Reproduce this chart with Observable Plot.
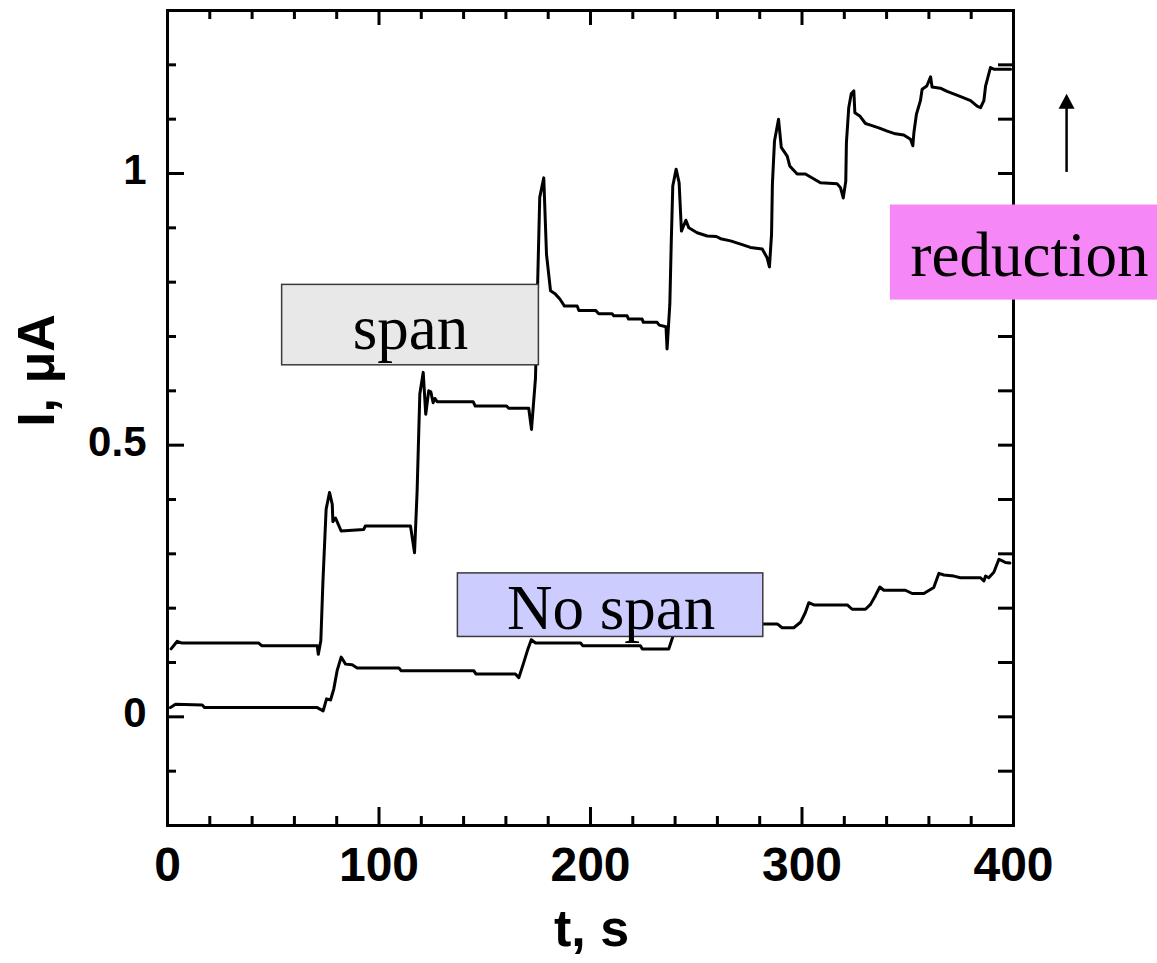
<!DOCTYPE html>
<html>
<head>
<meta charset="utf-8">
<script src="https://cdn.jsdelivr.net/npm/d3@7"></script>
<script src="https://cdn.jsdelivr.net/npm/@observablehq/plot@0.6"></script>
<style>
  html, body { margin: 0; padding: 0; background: #fff; }
</style>
</head>
<body>
<div id="chart"></div>
<script>
// ---- Data ----
// Upper curve (with span): time (s) and current (µA)
const spanT = [1.7, 4.6, 6.5, 43.0, 44.5, 70.8, 71.3, 72.5, 73.5, 75.0, 76.6, 77.9, 78.2, 79.4, 82.1, 92.8, 93.5, 114.9, 116.8, 118.0,
  119.3, 120.9, 122.1, 123.5, 124.5, 125.6, 126.4, 127.5, 144.5, 145.5, 160.3, 161.3, 170.8, 172.1, 174.0, 175.0, 176.0, 177.9, 179.2, 181.1,
  183.4, 185.5, 187.7, 193.7, 194.5, 202.4, 203.9, 210.2, 211.0, 217.3, 218.0, 224.4, 225.0, 231.5, 232.5, 235.7, 236.2, 237.5, 238.2, 238.9,
  240.5, 241.9, 243.0, 245.1, 246.5, 250.4, 255.2, 259.5, 261.5, 266.2, 271.0, 275.6, 281.2, 283.5, 284.6, 285.6, 286.0, 287.0, 288.9, 290.2,
  293.0, 294.2, 297.7, 301.6, 308.7, 316.6, 318.2, 319.5, 320.7, 321.0, 322.1, 323.3, 324.5, 325.0, 327.3, 330.0, 332.4, 336.3, 340.3, 344.2,
  348.1, 351.3, 352.4, 352.9, 354.1, 356.0, 356.8, 359.0, 360.8, 361.5, 365.4, 368.6, 372.6, 376.5, 379.7, 382.8, 384.4, 386.0, 386.8, 389.1,
  390.7, 398.6];
const spanI = [0.125, 0.139, 0.136, 0.136, 0.131, 0.131, 0.115, 0.140, 0.250, 0.382, 0.413, 0.391, 0.359, 0.366, 0.342, 0.345, 0.351, 0.351, 0.302, 0.413,
  0.594, 0.634, 0.557, 0.600, 0.598, 0.578, 0.586, 0.580, 0.580, 0.572, 0.572, 0.568, 0.568, 0.529, 0.624, 0.796, 0.956, 0.992, 0.851, 0.784,
  0.778, 0.769, 0.756, 0.756, 0.748, 0.748, 0.742, 0.742, 0.738, 0.738, 0.732, 0.732, 0.726, 0.726, 0.721, 0.718, 0.677, 0.759, 0.876, 0.977,
  1.008, 0.983, 0.894, 0.914, 0.900, 0.891, 0.885, 0.884, 0.880, 0.876, 0.870, 0.864, 0.861, 0.845, 0.828, 0.888, 0.980, 1.060, 1.100, 1.048,
  1.032, 1.014, 0.999, 0.999, 0.983, 0.981, 0.974, 0.955, 0.986, 1.057, 1.121, 1.147, 1.152, 1.112, 1.106, 1.092, 1.089, 1.084, 1.078, 1.073,
  1.071, 1.063, 1.051, 1.075, 1.109, 1.134, 1.155, 1.161, 1.178, 1.159, 1.157, 1.151, 1.145, 1.139, 1.134, 1.124, 1.121, 1.134, 1.161, 1.195,
  1.192, 1.192];

// Lower curve (no span)
const noSpanT = [1.4, 3.8, 16.4, 17.5, 70.8, 73.6, 75.2, 77.1, 78.6, 80.2, 82.1, 84.2, 87.3, 89.7, 109.4, 110.5, 144.8, 145.8, 164.5, 166.1,
  168.2, 170.1, 172.0, 174.0, 195.3, 196.3, 223.6, 224.5, 237.0, 238.8, 240.5, 242.0, 260.0, 281.6, 288.3, 290.6, 296.1, 299.3, 301.6, 303.2,
  305.6, 321.4, 323.7, 330.0, 332.4, 334.7, 336.8, 338.7, 348.9, 352.1, 357.6, 362.3, 364.7, 367.1, 371.8, 374.9, 384.4, 386.0, 386.8, 388.3,
  390.7, 393.1, 394.7, 396.2, 398.3];
const noSpanI = [0.017, 0.023, 0.022, 0.017, 0.017, 0.011, 0.033, 0.031, 0.051, 0.085, 0.110, 0.097, 0.096, 0.090, 0.090, 0.085, 0.085, 0.079, 0.079, 0.072,
  0.097, 0.121, 0.142, 0.136, 0.136, 0.131, 0.131, 0.125, 0.125, 0.146, 0.172, 0.178, 0.175, 0.171, 0.171, 0.164, 0.164, 0.174, 0.192, 0.210,
  0.206, 0.206, 0.198, 0.198, 0.207, 0.223, 0.239, 0.233, 0.233, 0.227, 0.227, 0.238, 0.264, 0.261, 0.259, 0.256, 0.256, 0.250, 0.259, 0.256,
  0.266, 0.290, 0.287, 0.284, 0.283];

// Axis ticks and labels
const xMajorTicks = [0, 100, 200, 300, 400];
const xMinorTicks = [20, 40, 60, 80, 120, 140, 160, 180, 220, 240, 260, 280, 320, 340, 360, 380];
const xTickLabels = ["0", "100", "200", "300", "400"];
const yMajorTicks = [0, 0.5, 1];
const yMinorTicks = [-0.1, 0.1, 0.2, 0.3, 0.4, 0.6, 0.7, 0.8, 0.9, 1.1, 1.2];
const yTickLabels = ["0", "0.5", "1"];
const xTitle = "t, s";
const yTitle = "I, μA";

// Annotation boxes (data units)
const boxLabels = ["span", "No span", "reduction"];
const boxT1 = [54.2, 137.3, 341.8];
const boxT2 = [175.6, 281.7, 470];
const boxI1 = [0.647, 0.147, 0.767];
const boxI2 = [0.795, 0.264, 0.942];
const boxTextT = [114.9, 209.7, 407.6];
const boxTextI = [0.677, 0.161, 0.8116];
const boxFill = ["#e8e8e8", "#ccccff", "#f587f7"];
const boxStroke = ["#3a3a3a", "#3a3a3a", "none"];

// Arrow next to "reduction"
const arrowT = [425.1];
const arrowFromI = [1.002];
const arrowHeadBaseI = [1.121];
const arrowTipI = [1.147];

// ---- Build tables ----
const spanRows = spanT.map((t, i) => ({t, I: spanI[i]}));
const noSpanRows = noSpanT.map((t, i) => ({t, I: noSpanI[i]}));
const boxes = boxLabels.map((label, i) => ({
  label, x1: boxT1[i], x2: boxT2[i], y1: boxI1[i], y2: boxI2[i],
  tx: boxTextT[i], ty: boxTextI[i], fill: boxFill[i], stroke: boxStroke[i]
}));
const arrows = arrowT.map((t, i) => ({t, from: arrowFromI[i], base: arrowHeadBaseI[i], tip: arrowTipI[i]}));

// ---- Layout ----
const W = 1157, H = 963;
const mL = 167, mR = 144, mT = 10, mB = 138;
const fw = W - mL - mR, fh = H - mT - mB;
const sans = "'Liberation Sans', Arial, sans-serif";
const serif = "'Liberation Serif', 'Times New Roman', serif";
const tickW = 3;

const chart = Plot.plot({
  width: W,
  height: H,
  marginLeft: mL, marginRight: mR, marginTop: mT, marginBottom: mB,
  x: {domain: [0, 400], axis: null},
  y: {domain: [-0.2, 1.3], axis: null},
  style: {background: "white", overflow: "visible"},
  marks: [
    // data curves
    Plot.line(spanRows, {x: "t", y: "I", stroke: "black", strokeWidth: 3, strokeLinejoin: "round"}),
    Plot.line(noSpanRows, {x: "t", y: "I", stroke: "black", strokeWidth: 3, strokeLinejoin: "round"}),
    // frame
    Plot.frame({stroke: "black", strokeWidth: 3}),
    // bottom ticks (inward)
    Plot.tickX(xMajorTicks, {x: d => d, insetTop: fh - 18, stroke: "black", strokeWidth: tickW}),
    Plot.tickX(xMinorTicks, {x: d => d, insetTop: fh - 9, stroke: "black", strokeWidth: tickW}),
    // top ticks
    Plot.tickX(xMajorTicks, {x: d => d, insetBottom: fh - 15, stroke: "black", strokeWidth: tickW}),
    Plot.tickX(xMinorTicks, {x: d => d, insetBottom: fh - 9, stroke: "black", strokeWidth: tickW}),
    // left ticks
    Plot.tickY(yMajorTicks, {y: d => d, insetRight: fw - 17, stroke: "black", strokeWidth: tickW}),
    Plot.tickY(yMinorTicks, {y: d => d, insetRight: fw - 9, stroke: "black", strokeWidth: tickW}),
    // right ticks
    Plot.tickY(yMajorTicks.concat(yMinorTicks), {y: d => d, insetLeft: fw - 15, stroke: "black", strokeWidth: tickW}),
    // tick labels
    Plot.text(xMajorTicks, {x: d => d, text: (d, i) => xTickLabels[i], frameAnchor: "bottom", dy: 55, lineAnchor: "bottom",
      fontSize: 48, fontWeight: "bold", fontFamily: sans, fill: "black"}),
    Plot.text(yMajorTicks, {y: d => d, text: (d, i) => yTickLabels[i], frameAnchor: "left", dx: -21, dy: -3, textAnchor: "end",
      fontSize: 42, fontWeight: "bold", fontFamily: sans, fill: "black"}),
    // axis titles
    Plot.text([xTitle], {text: d => d, frameAnchor: "bottom", dy: 120, dx: 1, lineAnchor: "bottom",
      fontSize: 52, fontWeight: "bold", fontFamily: sans, fill: "black"}),
    Plot.text([yTitle], {text: d => d, frameAnchor: "left", dx: -114, dy: -47.5, rotate: -90, lineAnchor: "bottom", textAnchor: "middle",
      fontSize: 52, fontWeight: "bold", fontFamily: sans, fill: "black"}),
    // annotation boxes
    Plot.rect(boxes, {x1: "x1", x2: "x2", y1: "y1", y2: "y2", fill: d => d.fill, stroke: d => d.stroke, strokeWidth: 1.5}),
    Plot.text(boxes, {x: "tx", y: "ty", text: "label", lineAnchor: "bottom", fontSize: 63, fontFamily: serif, fill: "black"}),
    // arrow
    Plot.ruleX(arrows, {x: "t", y1: "from", y2: "base", stroke: "black", strokeWidth: 2.5}),
    Plot.vector(arrows, {x: "t", y: "tip", anchor: "end", shape: "spike", length: 15, r: 8, rotate: 0, fill: "black", stroke: "none"})
  ]
});

document.getElementById("chart").append(chart);
</script>
</body>
</html>
